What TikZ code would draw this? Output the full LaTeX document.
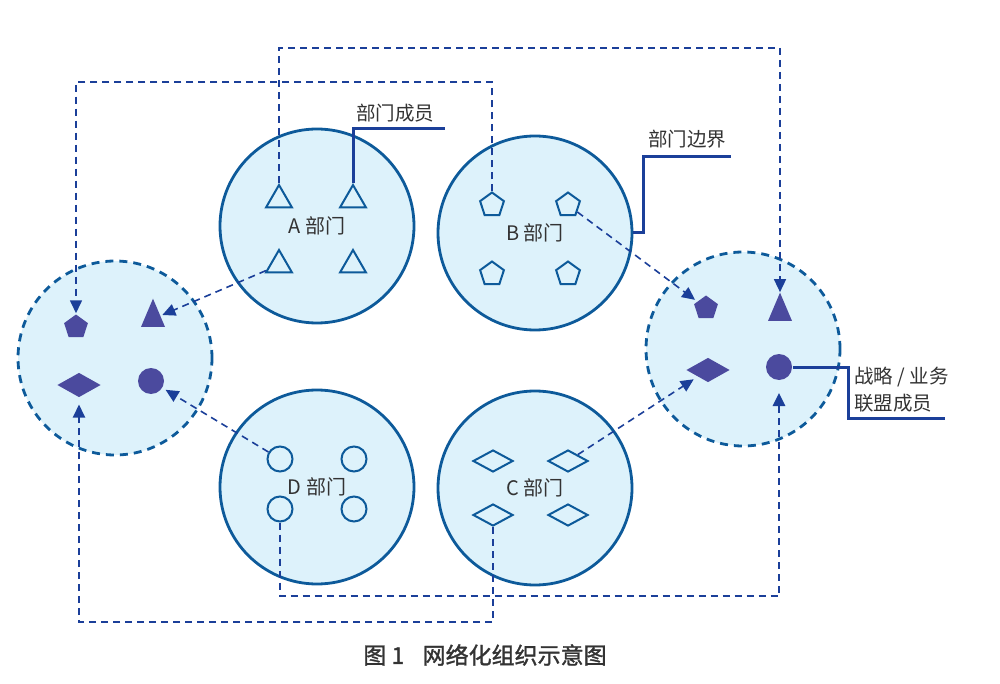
\documentclass[tikz,border=0pt]{standalone}
\usepackage{fontspec}
\setmainfont{Noto Sans CJK SC}
\newfontfamily\captionfont[FakeBold=1.4]{Noto Sans CJK SC}
\usepackage{tikz}
\usetikzlibrary{arrows.meta}
\usetikzlibrary{shapes.geometric}
\usetikzlibrary{positioning}
\definecolor{deptfill}{HTML}{DDF2FB}
\definecolor{deptline}{HTML}{0D5A9A}
\definecolor{allyfill}{HTML}{4B4A9E}
\definecolor{linkblue}{HTML}{1B3F99}
\definecolor{labelgray}{HTML}{333333}
\tikzset{dept/.style={ % department boundary
           circle, minimum size=194pt, inner sep=0pt,
           draw=deptline, line width=2.8pt, fill=deptfill,
           text=labelgray, font=\fontsize{20}{22}\selectfont},
         ally/.style={dept, dash pattern=on 8pt off 6pt},
         member/.style={inner sep=0pt, draw=deptline, line width=2pt},
         tri/.style={member, regular polygon, regular polygon sides=3, minimum size=30pt},
         pent/.style={member, regular polygon, regular polygon sides=5, minimum size=25pt},
         ring/.style={member, circle, minimum size=25pt},
         rhomb/.style={member, diamond, minimum width=40pt, minimum height=22pt},
         solid tri/.style={isosceles triangle, isosceles triangle apex angle=46,
           shape border rotate=90, minimum width=24pt, minimum height=24pt,
           inner sep=0pt, fill=allyfill},
         solid pent/.style={pent, draw=none, fill=allyfill},
         solid ring/.style={ring, draw=none, fill=allyfill, minimum size=26pt},
         solid rhomb/.style={rhomb, draw=none, fill=allyfill, minimum width=44pt, minimum height=25pt},
         link/.style={draw=linkblue, line width=1.6pt, dash pattern=on 7pt off 5pt},
         callout/.style={draw=linkblue, line width=3pt},
         note/.style={text=labelgray, font=\fontsize{19.5}{21}\selectfont, inner sep=0pt}}

\begin{document}
\begin{tikzpicture}[x=1pt,y=-1pt]
\useasboundingbox (0,0) rectangle (1000,684);

% departments and alliances
\node[dept] (deptA) at (317,226) {A 部门};
\node[dept] (deptB) at (535,233) {B 部门};
\node[dept] (deptD) at (317,487) {D 部门};
\node[dept] (deptC) at (535,488) {C 部门};
\node[ally] (allyL) at (115,358) {};
\node[ally] (allyR) at (743,349) {};

% members
\node[tri] (a1) at (279,200) {};
\node[tri] (a2) at (353,200) {};
\node[tri] (a3) at (279,265) {};
\node[tri] (a4) at (353,265) {};
\node[pent] (b1) at (492,205) {};
\node[pent] (b2) at (568,205) {};
\node[pent] (b3) at (492,274) {};
\node[pent] (b4) at (568,274) {};
\node[ring] (d1) at (280,459) {};
\node[ring] (d2) at (354,459) {};
\node[ring] (d3) at (280,509) {};
\node[ring] (d4) at (354,509) {};
\node[rhomb] (c1) at (493,461) {};
\node[rhomb] (c2) at (568,461) {};
\node[rhomb] (c3) at (493,515) {};
\node[rhomb] (c4) at (568,515) {};

\node[solid pent] (l1) at (76,327) {};
\node[solid tri] (l2) at (153,319) {};
\node[solid rhomb] (l3) at (79,385) {};
\node[solid ring] (l4) at (151,381) {};
\node[solid pent] (r1) at (706,308) {};
\node[solid tri] (r2) at (780,313) {};
\node[solid rhomb] (r3) at (708,370) {};
\node[solid ring] (r4) at (779,367) {};

% links between departments and alliances
\coordinate (loopAR) at (500,48);
\coordinate (loopBL) at (300,82);
\coordinate (loopDR) at (500,596);
\coordinate (loopCL) at (300,622);
\begin{scope}[>={Triangle[length=13pt,width=12pt,linkblue]}]
    \draw[link,->] (a1.north) |- (loopAR) -| (r2.apex);
    \draw[link,->] (b1.north) |- (loopBL) -| (l1.north);
    \draw[link,->,shorten >=2pt] (a3) -- (l2);
    \draw[link,->,shorten >=2pt] (b2) -- (r1);
    \draw[link,->,shorten >=3pt] (d1) -- (l4);
    \draw[link,->,shorten >=4pt] (c2) -- (r3);
    \draw[link,->,line width=2.6pt,shorten >=12pt] (d3.south) |- (loopDR) -| (r4.south);
    \draw[link,->,line width=1.9pt,shorten >=6pt] (c3.south) |- (loopCL) -| (l3.south);
\end{scope}

% callouts
\coordinate (memberEnd) at (445,129);
\coordinate (boundBend) at (643,157);
\coordinate (boundEnd) at (731,157);
\coordinate (allyBend) at (848,418);
\coordinate (allyEnd) at (945,418);
\draw[callout] (a2.north) |- (memberEnd);
\draw[callout] (deptB.east) -| (boundBend) -- (boundEnd);
\draw[callout] (r4.east) -| (allyBend) -- (allyEnd);

\node[note] (memberText) at (395,113) {部门成员};
\node[note] (boundText) at (687,139) {部门边界};
\node[note, anchor=west] (allyText1) at (854,377) {战略 / 业务};
\node[note, anchor=west] (allyText2) at (854,403) {联盟成员};

\node[text=labelgray, font=\fontsize{23}{25}\captionfont] (caption) at (485,655)
    {图 1\hspace{0.8em}网络化组织示意图};
\end{tikzpicture}
\end{document}
